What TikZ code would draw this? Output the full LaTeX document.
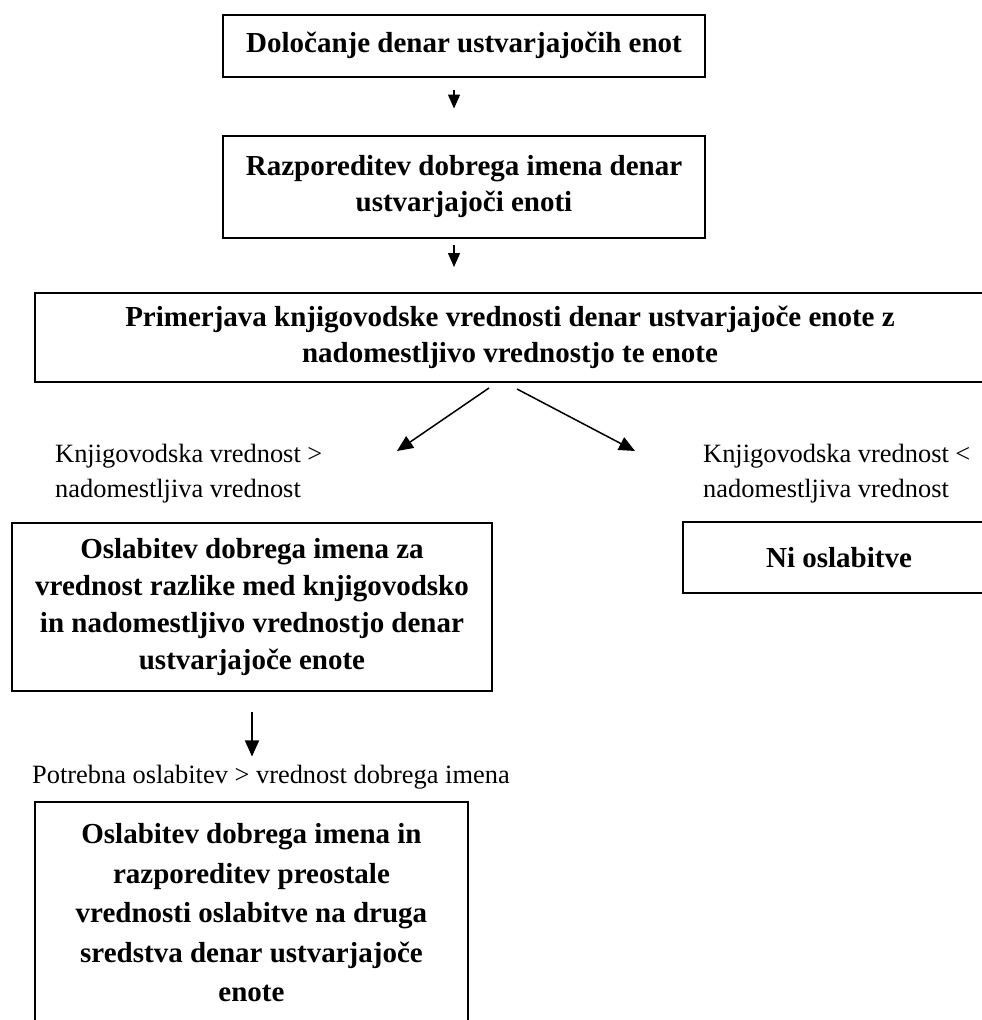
\documentclass[tikz,border=0pt]{standalone}
\usepackage{fontspec}
\setmainfont{Liberation Serif}
\usetikzlibrary{arrows.meta}
\begin{document}
\begin{tikzpicture}[x=1pt,y=-1pt,
  box/.style={draw, line width=2pt, rectangle, inner sep=0pt, align=center,
    font=\fontsize{29}{#1}\selectfont\bfseries},
  box/.default=39.5,
  lbl/.style={inner sep=0pt, align=left, font=\fontsize{26.4}{35}\selectfont},
  arr/.style={-{Triangle[length=14pt,width=12pt]}, line width=1.4pt},
  arrd/.style={-{Triangle[length=16pt,width=14pt]}, line width=1.5pt},
  ]
\useasboundingbox (0,0) rectangle (982,1020);
\clip (0,0) rectangle (982,1020);

\node[box, minimum width=482pt, minimum height=62pt] (b1) at (464,45.5)
  {Določanje denar ustvarjajočih enot};
\node[box=36, minimum width=482pt, minimum height=102pt] (b2) at (464,186.5)
  {Razporeditev dobrega imena denar\\ustvarjajoči enoti};
\node[box=35.5, minimum width=950pt, minimum height=89pt] (b3) at (510,337.5)
  {Primerjava knjigovodske vrednosti denar ustvarjajoče enote z\\nadomestljivo vrednostjo te enote};

\node[lbl, anchor=west] (lL) at (55,474)
  {Knjigovodska vrednost >\\nadomestljiva vrednost};
\node[lbl, anchor=west] (lR) at (703,474)
  {Knjigovodska vrednost <\\nadomestljiva vrednost};

\node[box=37, minimum width=480pt, minimum height=168pt] (b4) at (252,607)
  {Oslabitev dobrega imena za\\vrednost razlike med knjigovodsko\\in nadomestljivo vrednostjo denar\\ustvarjajoče enote};
\node[box, minimum width=312pt, minimum height=71pt] (b5) at (839,557.5)
  {Ni oslabitve};

\node[lbl, anchor=base west] (l3) at (32,783)
  {Potrebna oslabitev > vrednost dobrega imena};

\node[box, minimum width=433pt, minimum height=223pt] (b6) at (251.5,913)
  {Oslabitev dobrega imena in\\razporeditev preostale\\vrednosti oslabitve na druga\\sredstva denar ustvarjajoče\\enote};

\coordinate (tl) at (397,451);
\coordinate (tr) at (635,451);

\draw[arr, shorten <=12pt, shorten >=26pt] ([xshift=-10pt]b1.south) -- ([xshift=-10pt]b2.north);
\draw[arr, shorten <=6pt, shorten >=25pt] ([xshift=-10pt]b2.south) -- ([xshift=-10pt]b2.south |- b3.north);
\draw[arrd] ([shift={(-21,5)}]b3.south) -- (tl);
\draw[arrd] ([shift={(7,6)}]b3.south) -- (tr);
\draw[arrd, shorten <=20pt, shorten >=8pt] (b4.south) -- (b4.south |- l3.north);
\end{tikzpicture}
\end{document}
